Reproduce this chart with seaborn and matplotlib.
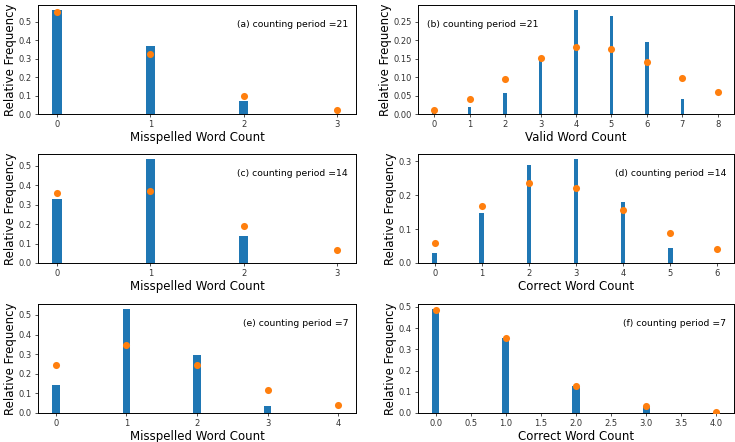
"""Relative frequency of word counts per counting period: observed bars vs fitted dots"""

import matplotlib
matplotlib.use("Agg")
import matplotlib.pyplot as plt
import numpy as np
import pandas as pd
import seaborn as sns

plt.rcParams["font.family"] = ["DejaVu Sans"]
plt.rcParams["axes.linewidth"] = 0.7
plt.rcParams["xtick.major.width"] = 0.6
plt.rcParams["ytick.major.width"] = 0.6
plt.rcParams["xtick.major.size"] = 2.5
plt.rcParams["ytick.major.size"] = 2.5
plt.rcParams["xtick.major.pad"] = 2
plt.rcParams["ytick.major.pad"] = 2

# ── 数据 ──
# (a) misspelled, period 21
a_counts = [0, 1, 2, 3]
a_obs = [0.563, 0.370, 0.072, 0.0]
a_fit = [0.554, 0.328, 0.099, 0.020]

# (b) valid, period 21
b_counts = [0, 1, 2, 3, 4, 5, 6, 7, 8]
b_obs = [0.003, 0.018, 0.056, 0.151, 0.282, 0.267, 0.196, 0.041, 0.0]
b_fit = [0.010, 0.041, 0.095, 0.152, 0.182, 0.176, 0.141, 0.097, 0.059]

# (c) misspelled, period 14
c_counts = [0, 1, 2, 3]
c_obs = [0.329, 0.534, 0.140, 0.0]
c_fit = [0.360, 0.368, 0.188, 0.065]

# (d) correct, period 14
d_counts = [0, 1, 2, 3, 4, 5, 6]
d_obs = [0.029, 0.146, 0.290, 0.306, 0.181, 0.044, 0.0]
d_fit = [0.059, 0.167, 0.236, 0.222, 0.156, 0.089, 0.041]

# (e) misspelled, period 7
e_counts = [0, 1, 2, 3, 4]
e_obs = [0.144, 0.529, 0.297, 0.034, 0.0]
e_fit = [0.244, 0.344, 0.244, 0.115, 0.039]

# (f) correct, period 7
f_counts = [0, 1, 2, 3, 4]
f_obs = [0.489, 0.351, 0.126, 0.031, 0.0]
f_fit = [0.487, 0.351, 0.127, 0.031, 0.005]
f_ticks = [0.0, 0.5, 1.0, 1.5, 2.0, 2.5, 3.0, 3.5, 4.0]

panels = [
    (a_counts, a_obs, a_fit, a_counts, "Misspelled Word Count", "(a) counting period =21", "right"),
    (b_counts, b_obs, b_fit, b_counts, "Valid Word Count", "(b) counting period =21", "left"),
    (c_counts, c_obs, c_fit, c_counts, "Misspelled Word Count", "(c) counting period =14", "right"),
    (d_counts, d_obs, d_fit, d_counts, "Correct Word Count", "(d) counting period =14", "right"),
    (e_counts, e_obs, e_fit, e_counts, "Misspelled Word Count", "(e) counting period =7", "right"),
    (f_counts, f_obs, f_fit, f_ticks, "Correct Word Count", "(f) counting period =7", "right"),
]

W, H = 735, 442
fig = plt.figure(figsize=(W / 100, H / 100), dpi=100)

# 各子图像素位置
col_x = [(38, 356), (418, 734)]
row_y = [(5, 114), (154, 263), (304, 413)]

for i, (counts, obs, fit, ticks, xlabel, note, side) in enumerate(panels):
    r, c = divmod(i, 2)
    x0, x1 = col_x[c]
    y0, y1 = row_y[r]
    ax = fig.add_axes([x0 / W, 1 - y1 / H, (x1 - x0) / W, (y1 - y0) / H])

    df = pd.DataFrame({"count": counts, "obs": obs, "fit": fit})
    sns.barplot(data=df, x="count", y="obs", native_scale=True, width=0.1,
                color="#1f77b4", saturation=1, errorbar=None, linewidth=0, ax=ax)
    sns.scatterplot(data=df, x="count", y="fit", color="#ff7f0e", s=26,
                    linewidth=0, zorder=3, ax=ax)

    ax.margins(x=0.05, y=0.05)
    ax.set_ylim(0, max(max(obs), max(fit)) * 1.05)
    ax.set_xticks(ticks)
    ax.tick_params(labelsize=6, colors="#333333")
    ax.set_xlabel(xlabel, fontsize=8.5, labelpad=1)
    ax.set_ylabel("Relative Frequency", fontsize=8.5, labelpad=1)

    if side == "right":
        ax.text(0.975, 0.82, note, transform=ax.transAxes, ha="right", va="center", fontsize=6.7)
    else:
        ax.text(0.03, 0.82, note, transform=ax.transAxes, ha="left", va="center", fontsize=6.7)

fig.savefig("out.png", dpi=100)
plt.close()
